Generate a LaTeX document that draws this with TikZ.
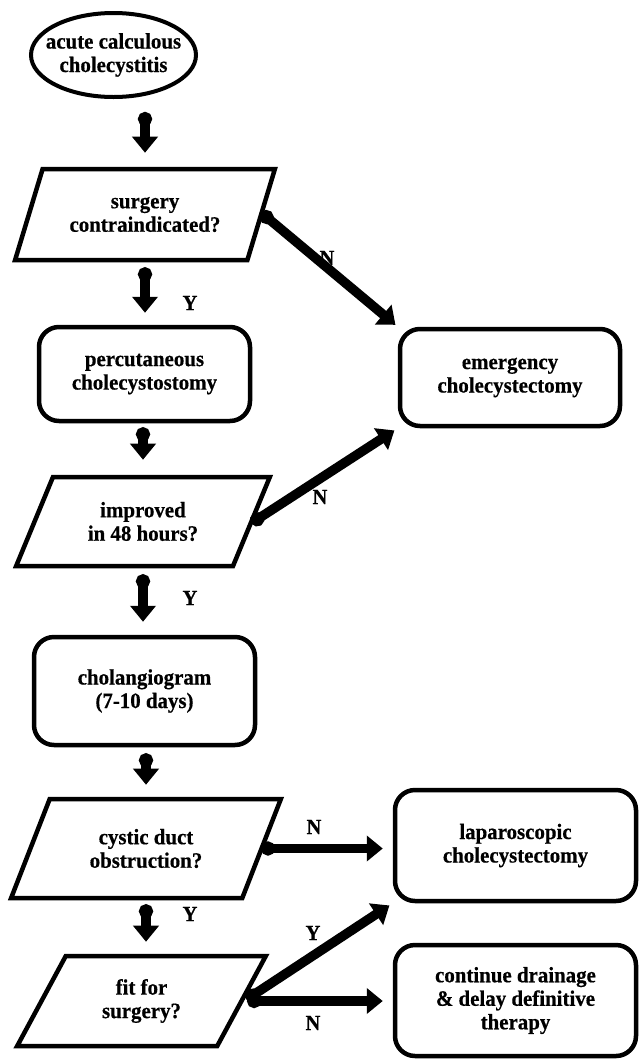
\documentclass[tikz,border=0pt]{standalone}
\usepackage{fontspec}
\setmainfont[FakeStretch=0.95, BoldFeatures={FakeBold=0.5}]{Liberation Serif}
\usetikzlibrary{shapes.geometric,arrows.meta}
\begin{document}
\begin{tikzpicture}[x=1pt,y=-1pt,
  txt/.style={font=\fontsize{22}{23.5}\selectfont\bfseries, align=center},
  box/.style={txt, draw, line width=4.5pt, rounded corners=20pt, inner sep=0pt},
  para/.style={txt, draw, line width=4.5pt, trapezium, trapezium left angle=60,
    trapezium right angle=120, trapezium stretches=true, inner sep=0pt},
  oval/.style={txt, draw, line width=4pt, ellipse, inner xsep=-11pt, inner ysep=0pt},
  flow/.style={line width=9.5pt,
    {Circle[length=14pt,width=14pt]}-{Triangle[length=16pt,width=25pt]}},
  lbl/.style={font=\fontsize{21.5}{23}\selectfont\bfseries, inner sep=0pt}
]
\useasboundingbox (0,0) rectangle (641,1061);

% nodes
\node[oval, minimum width=165pt, minimum height=84pt] (ell) at (113.5,55)
  {acute calculous\\cholecystitis};
\node[para, minimum width=260pt, minimum height=91pt] (p1) at (145,214.5)
  {surgery\\contraindicated?};
\node[box, minimum width=211pt, minimum height=94pt] (b1) at (144.5,374)
  {percutaneous\\cholecystostomy};
\node[para, minimum width=254pt, minimum height=89pt] (p2) at (143,521.5)
  {improved\\in 48 hours?};
\node[box, minimum width=221pt, minimum height=108pt] (b2) at (144.5,691)
  {cholangiogram\\(7-10 days)};
\node[para, minimum width=270pt, minimum height=99pt] (p3) at (146,848.5)
  {cystic duct\\obstruction?};
\node[para, minimum width=249pt, minimum height=90pt] (p4) at (141.5,1001)
  {fit for\\surgery?};
\node[box, minimum width=220pt, minimum height=97pt] (e) at (510,377.5)
  {emergency\\cholecystectomy};
\node[box, minimum width=241pt, minimum height=111pt] (l) at (515.5,845.5)
  {laparoscopic\\cholecystectomy};
\node[box, minimum width=241pt, minimum height=111pt] (c) at (515.5,1000.5)
  {continue drainage\\\& delay definitive\\therapy};

% vertical connectors
\draw[flow, shorten <=13pt, shorten >=14pt] (ell.south -| p1.north) -- (p1.north);
\draw[flow, shorten <=5pt, shorten >=12pt] (p1.south) -- (p1.south |- b1.north);
\draw[flow, shorten <=4pt, shorten >=15pt] (b1.south -| p2.north) -- (p2.north);
\draw[flow, shorten <=6pt, shorten >=13pt] (p2.south) -- (p2.south |- b2.north);
\draw[flow, shorten <=6pt, shorten >=12pt] (b2.south -| p3.north) -- (p3.north);
\draw[flow, shorten <=4pt, shorten >=12pt] (p3.south) -- (p3.south |- p4.north);

% side connectors
\draw[flow, shorten <=-3pt, shorten >=3pt] (p1.east) -- (e.north west);
\draw[flow, shorten <=-3pt, shorten >=4pt] (p2.east) -- (e.south west);
\draw[flow, shorten <=-3pt, shorten >=10pt] (p3.east) -- (p3.east -| l.west);
\draw[flow, shorten <=3pt, shorten >=4pt] (p4.east) -- (l.south west);
\draw[flow, shorten <=3pt, shorten >=10pt] (p4.east) -- (p4.east -| c.west);

% labels
\node[lbl] (y1) at (190,303) {Y};
\node[lbl] (y2) at (190,598) {Y};
\node[lbl] (y3) at (190,914) {Y};
\node[lbl] (n1) at (327,258) {N};
\node[lbl] (n2) at (320,497) {N};
\node[lbl] (n3) at (314,827) {N};
\node[lbl] (y4) at (313,933) {Y};
\node[lbl] (n4) at (313,1023) {N};
\end{tikzpicture}
\end{document}
